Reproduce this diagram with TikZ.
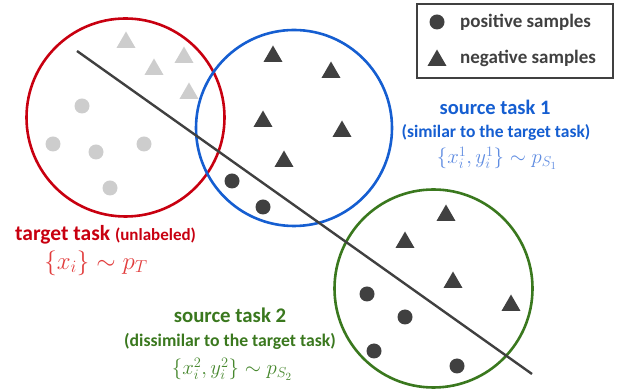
\documentclass[tikz,border=0pt]{standalone}
\usepackage{fontspec}
\setmainfont{Carlito}
\usetikzlibrary{shapes.geometric}
\definecolor{tred}{RGB}{200,0,16}
\definecolor{tredm}{RGB}{225,60,60}
\definecolor{sblue}{RGB}{21,94,209}
\definecolor{sbluem}{RGB}{95,140,225}
\definecolor{sgreen}{RGB}{58,120,30}
\definecolor{sgreenm}{RGB}{70,135,45}
\definecolor{dark}{RGB}{64,64,64}
\definecolor{light}{RGB}{205,205,205}
\tikzset{x=1pt,y=1pt,
  pos/.style={circle,fill=#1,inner sep=0pt,minimum size=15pt},
  neg/.style={regular polygon,regular polygon sides=3,fill=#1,inner sep=0pt,
    minimum size=22pt,yshift=-2.5pt},
  task/.style={draw=#1,line width=2.6pt},
  lbl/.style={font=\bfseries\fontsize{#1}{#1}\selectfont,inner sep=0pt},
  dist/.style={text=#1,font=\fontsize{22.5}{22.5}\selectfont,inner sep=0pt}}

\begin{document}
\begin{tikzpicture}
    \useasboundingbox (0,0) rectangle (618,390);
    % the three tasks
    \draw[task=tred]   (125.5,272.5) circle (99);
    \draw[task=sblue]  (294,262) circle (98);
    \draw[task=sgreen] (433.5,101.5) circle (99);
    % decision boundary
    \coordinate (b1) at (77,339);
    \coordinate (b2) at (532,16);
    \draw[dark,line width=2.4pt] (b1) -- (b2);
    % target samples (unlabeled)
    \foreach \x/\y [count=\i] in {126/350,184/335,154/323,189/299}
      \node[neg=light] (tn\i) at (\x,\y) {};
    \foreach \x/\y [count=\i] in {82/284,53/246,96/238,144/246,110/202}
      \node[pos=light] (tp\i) at (\x,\y) {};
    % source task 1
    \foreach \x/\y [count=\i] in {273/336,263/271,284/231,331/320,342/261}
      \node[neg=dark] (an\i) at (\x,\y) {};
    \foreach \x/\y [count=\i] in {232/209,263/183}
      \node[pos=dark] (ap\i) at (\x,\y) {};
    % source task 2
    \foreach \x/\y [count=\i] in {446/177,405/150,453/110,511/87}
      \node[neg=dark] (bn\i) at (\x,\y) {};
    \foreach \x/\y [count=\i] in {367/96,405/73,374/39,457/24}
      \node[pos=dark] (bp\i) at (\x,\y) {};
    % legend
    \draw[dark,line width=1.6pt] (417,386) rectangle (613,312);
    \node[pos=dark] (lp) at (437,368) {};
    \node[neg=dark] (ln) at (437,332) {};
    \node[lbl=19,text=dark,anchor=west] (lpt) at (460,368) {positive samples};
    \node[lbl=19,text=dark,anchor=west] (lnt) at (460,332) {negative samples};
    % labels
    \node[lbl=20.5,text=sblue] (s1) at (495,283) {source task 1};
    \node[lbl=17.5,text=sblue] (s1d) at (496,258) {(similar to the target task)};
    \node[dist=sbluem] (s1m) at (497,232) {$\{x_i^1,y_i^1\}\sim p_{S_1}$};
    \node[lbl=21.5,text=tred,anchor=west] (t) at (15,155)
      {target task {\fontsize{17}{17}\selectfont(unlabeled)}};
    \node[dist=tredm,font=\fontsize{23.5}{23.5}\selectfont] (tm) at (96,127)
      {$\{x_i\}\sim p_T$};
    \node[lbl=20.8,text=sgreen] (s2) at (230,75) {source task 2};
    \node[lbl=17.7,text=sgreen] (s2d) at (230,49) {(dissimilar to the target task)};
    \node[dist=sgreenm] (s2m) at (232,21) {$\{x_i^2,y_i^2\}\sim p_{S_2}$};
  \end{tikzpicture}
\end{document}
